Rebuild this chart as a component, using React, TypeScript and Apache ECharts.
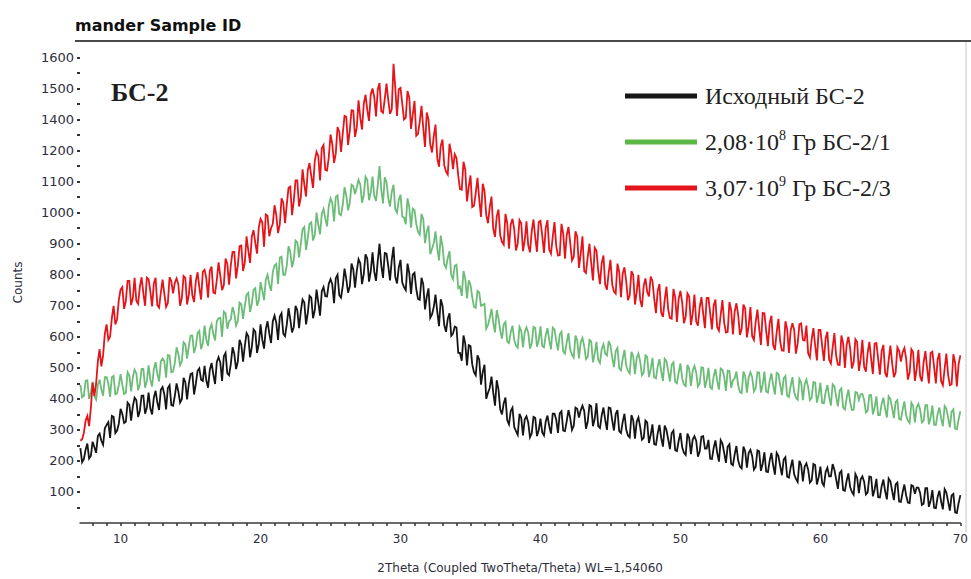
import { useEffect, useRef } from "react";
import * as echarts from "echarts";

// 2θ sampling grid of the diffractogram
const THETA_START = 7.125;
const THETA_STEP = 0.125;

// Y tick positions and the labels printed at them
const Y_TICK_VALUES = [100, 200, 300, 400, 500, 600, 700, 800, 900, 1000, 1100, 1200, 1300, 1400, 1500];
const Y_TICK_LABELS = ["100", "200", "300", "400", "500", "600", "700", "800", "900", "1000", "1100", "1200", "1400", "1500", "1600"];
const Y_MINOR_TICKS = [50, 100, 150, 200, 250, 300, 350, 400, 450, 500, 550, 600, 650, 700, 750, 800, 850, 900, 950, 1000, 1050, 1100, 1150, 1200, 1250, 1300, 1350, 1400, 1450, 1500];
const X_TICK_LABELS = [10, 20, 30, 40, 50, 60, 70];
const X_MINOR_TICKS = [8, 9, 10, 11, 12, 13, 14, 15, 16, 17, 18, 19, 20, 21, 22, 23, 24, 25, 26, 27, 28, 29, 30, 31, 32, 33, 34, 35, 36, 37, 38, 39, 40, 41, 42, 43, 44, 45, 46, 47, 48, 49, 50, 51, 52, 53, 54, 55, 56, 57, 58, 59, 60, 61, 62, 63, 64, 65, 66, 67, 68, 69, 70];

const SERIES_NAMES = ["Исходный БС-2", "2,08·10⁸ Гр БС-2/1", "3,07·10⁹ Гр БС-2/3"];

// Counts, one row per degree of 2θ (eight readings each, x.125 … x+1)
const initialCounts = [
  241, 196, 206, 236, 256, 208, 216, 262,
  245, 226, 280, 288, 265, 252, 305, 316,
  325, 274, 345, 342, 290, 298, 320, 368,
  351, 322, 326, 388, 381, 330, 376, 404,
  396, 342, 361, 410, 411, 352, 371, 420,
  369, 350, 404, 426, 389, 364, 429, 438,
  415, 366, 435, 444, 380, 378, 410, 450,
  424, 388, 399, 468, 454, 398, 449, 480,
  483, 414, 448, 490, 498, 462, 458, 506,
  459, 436, 494, 516, 479, 448, 519, 534,
  517, 458, 537, 548, 482, 476, 512, 566,
  545, 496, 520, 590, 575, 520, 570, 612,
  602, 534, 567, 624, 617, 548, 577, 640,
  590, 562, 625, 650, 610, 580, 650, 668,
  645, 590, 665, 676, 610, 602, 640, 692,
  656, 614, 631, 700, 686, 628, 681, 720,
  711, 640, 676, 732, 726, 660, 686, 752,
  711, 668, 746, 760, 731, 730, 771, 786,
  769, 708, 789, 800, 734, 726, 764, 820,
  787, 742, 762, 836, 817, 758, 812, 850,
  837, 770, 802, 866, 852, 778, 812, 872,
  810, 780, 845, 900, 830, 790, 870, 868,
  828, 782, 848, 890, 793, 772, 823, 848,
  775, 760, 750, 836, 805, 738, 800, 806,
  754, 722, 719, 790, 769, 688, 729, 756,
  661, 672, 696, 736, 681, 634, 721, 700,
  638, 616, 658, 676, 603, 610, 633, 630,
  548, 548, 523, 604, 578, 508, 573, 570,
  511, 486, 476, 540, 526, 446, 486, 510,
  400, 420, 435, 472, 420, 378, 460, 430,
  366, 350, 386, 404, 331, 318, 361, 372,
  309, 296, 284, 352, 339, 282, 334, 344,
  324, 276, 289, 342, 339, 280, 299, 336,
  292, 282, 327, 346, 312, 288, 352, 352,
  333, 290, 353, 360, 298, 296, 328, 364,
  338, 300, 313, 372, 368, 340, 363, 378,
  361, 304, 326, 380, 376, 312, 336, 386,
  312, 306, 347, 372, 332, 300, 372, 370,
  331, 298, 351, 364, 296, 290, 326, 352,
  301, 282, 276, 348, 331, 272, 326, 340,
  309, 268, 274, 330, 324, 258, 284, 318,
  254, 252, 289, 316, 274, 246, 314, 300,
  270, 238, 290, 298, 235, 232, 265, 290,
  244, 226, 219, 288, 274, 222, 269, 280,
  265, 214, 230, 278, 280, 240, 240, 268,
  207, 206, 242, 266, 227, 198, 267, 256,
  226, 194, 246, 254, 191, 186, 221, 248,
  201, 182, 176, 246, 231, 178, 226, 236,
  216, 172, 181, 234, 231, 168, 191, 228,
  166, 164, 201, 226, 186, 156, 226, 216,
  184, 154, 204, 212, 149, 146, 179, 204,
  157, 142, 132, 200, 187, 134, 182, 192,
  172, 130, 137, 190, 187, 124, 147, 182,
  130, 120, 165, 178, 150, 150, 190, 172,
  141, 110, 161, 168, 106, 104, 136, 160,
  116, 100, 91, 158, 146, 96, 141, 150,
  133, 92, 98, 150, 148, 86, 108, 142,
  83, 82, 118, 140, 103, 76, 143, 134,
  104, 74, 124, 130, 69, 68, 99, 124,
  89, 66, 64, 122, 119, 94, 114, 114,
  97, 58, 62, 112, 112, 52, 72, 106,
  49, 48, 84, 104, 69, 44, 109, 98,
  69, 40, 89, 94, 34, 32, 64, 90,
];

const dose1Counts = [
  445, 405, 410, 458, 460, 400, 420, 455,
  410, 398, 445, 462, 430, 410, 470, 470,
  450, 406, 470, 474, 415, 418, 445, 480,
  445, 416, 420, 486, 475, 424, 470, 494,
  482, 428, 447, 496, 497, 436, 457, 508,
  461, 440, 496, 518, 481, 456, 521, 530,
  521, 468, 541, 540, 486, 488, 516, 566,
  546, 508, 521, 582, 576, 530, 571, 604,
  604, 548, 569, 612, 619, 560, 579, 636,
  590, 570, 625, 640, 610, 588, 650, 660,
  661, 600, 681, 676, 626, 650, 656, 696,
  675, 636, 650, 710, 705, 658, 700, 736,
  742, 680, 707, 752, 757, 700, 717, 776,
  749, 718, 784, 800, 769, 748, 809, 830,
  835, 770, 855, 858, 800, 800, 830, 892,
  874, 824, 849, 910, 904, 856, 899, 946,
  954, 880, 919, 964, 969, 910, 929, 1000,
  961, 930, 996, 1012, 981, 956, 1021, 1046,
  1031, 972, 1051, 1056, 996, 992, 1026, 1082,
  1056, 1008, 1031, 1090, 1086, 1060, 1081, 1106,
  1091, 1032, 1056, 1116, 1106, 1040, 1066, 1116,
  1054, 1038, 1089, 1150, 1074, 1030, 1114, 1098,
  1047, 1020, 1067, 1090, 1012, 1000, 1042, 1058,
  988, 984, 963, 1046, 1018, 952, 1013, 1008,
  964, 938, 929, 996, 979, 902, 939, 958,
  866, 884, 901, 940, 886, 846, 926, 892,
  834, 822, 854, 876, 799, 786, 829, 832,
  757, 762, 732, 812, 787, 724, 782, 768,
  728, 696, 693, 748, 743, 700, 703, 706,
  626, 638, 661, 690, 646, 614, 686, 660,
  620, 594, 640, 648, 585, 580, 615, 636,
  590, 572, 565, 632, 620, 566, 615, 630,
  614, 562, 579, 632, 629, 568, 589, 634,
  570, 566, 605, 628, 590, 560, 630, 624,
  588, 556, 608, 616, 553, 546, 583, 612,
  558, 542, 533, 604, 588, 530, 583, 596,
  570, 528, 535, 590, 585, 518, 545, 584,
  526, 516, 561, 576, 546, 540, 586, 572,
  534, 502, 554, 564, 499, 492, 529, 558,
  507, 490, 482, 552, 537, 480, 532, 546,
  520, 476, 485, 540, 535, 470, 495, 532,
  469, 466, 504, 528, 489, 458, 529, 522,
  490, 456, 510, 518, 455, 450, 485, 514,
  466, 446, 441, 510, 496, 442, 491, 506,
  485, 440, 450, 502, 500, 436, 460, 500,
  438, 432, 473, 496, 458, 430, 498, 494,
  471, 426, 491, 490, 436, 460, 466, 488,
  444, 422, 419, 488, 474, 420, 469, 486,
  470, 424, 435, 486, 485, 420, 445, 488,
  424, 420, 459, 482, 444, 414, 484, 480,
  446, 412, 466, 474, 411, 406, 441, 470,
  422, 404, 397, 464, 452, 396, 447, 462,
  438, 396, 403, 454, 453, 388, 413, 452,
  387, 386, 422, 444, 407, 378, 447, 440,
  407, 376, 427, 434, 372, 366, 402, 430,
  390, 364, 365, 422, 420, 396, 415, 416,
  397, 356, 362, 412, 412, 350, 372, 408,
  348, 348, 383, 404, 368, 340, 408, 400,
  370, 338, 390, 396, 335, 332, 365, 392,
  347, 330, 322, 388, 377, 324, 372, 384,
  365, 324, 330, 380, 380, 318, 340, 378,
  317, 316, 352, 372, 337, 312, 377, 368,
  339, 308, 359, 366, 304, 302, 334, 360,
];

const dose2Counts = [
  265, 270, 290, 330, 345, 312, 370, 452,
  410, 448, 520, 560, 505, 540, 610, 640,
  590, 600, 660, 700, 640, 656, 720, 752,
  760, 690, 715, 780, 780, 702, 725, 790,
  716, 706, 761, 792, 741, 700, 791, 786,
  747, 698, 772, 790, 702, 694, 742, 784,
  739, 696, 709, 792, 779, 740, 774, 788,
  770, 700, 725, 796, 790, 704, 735, 800,
  734, 712, 779, 808, 759, 720, 809, 816,
  788, 726, 813, 826, 743, 740, 783, 840,
  796, 750, 766, 852, 836, 768, 831, 874,
  874, 788, 829, 892, 894, 812, 839, 924,
  878, 838, 923, 944, 903, 868, 953, 980,
  969, 890, 994, 990, 924, 950, 964, 1024,
  992, 934, 962, 1046, 1032, 966, 1027, 1080,
  1084, 992, 1039, 1104, 1104, 1020, 1049, 1140,
  1092, 1052, 1137, 1160, 1117, 1080, 1167, 1196,
  1183, 1104, 1208, 1218, 1138, 1136, 1178, 1252,
  1221, 1160, 1191, 1276, 1261, 1196, 1256, 1312,
  1309, 1218, 1264, 1330, 1329, 1244, 1274, 1362,
  1306, 1268, 1351, 1380, 1331, 1296, 1381, 1400,
  1372, 1310, 1397, 1418, 1327, 1322, 1367, 1416,
  1363, 1318, 1333, 1480, 1403, 1312, 1398, 1402,
  1351, 1300, 1306, 1392, 1371, 1270, 1316, 1360,
  1248, 1254, 1293, 1344, 1273, 1212, 1323, 1300,
  1221, 1194, 1246, 1284, 1176, 1148, 1216, 1236,
  1153, 1132, 1123, 1222, 1193, 1140, 1188, 1176,
  1119, 1076, 1074, 1164, 1139, 1036, 1084, 1120,
  1018, 1022, 1063, 1112, 1043, 986, 1093, 1070,
  993, 966, 1018, 1052, 948, 922, 988, 1010,
  927, 906, 897, 996, 967, 884, 962, 980,
  946, 878, 901, 976, 966, 876, 911, 972,
  895, 872, 940, 978, 920, 874, 970, 974,
  926, 870, 951, 976, 881, 868, 921, 970,
  893, 862, 863, 964, 933, 852, 928, 954,
  903, 846, 858, 940, 923, 822, 868, 924,
  812, 806, 857, 900, 837, 782, 887, 878,
  813, 770, 838, 862, 768, 752, 808, 848,
  769, 746, 739, 836, 809, 728, 804, 824,
  779, 718, 734, 812, 799, 704, 744, 800,
  719, 696, 764, 788, 744, 730, 794, 780,
  723, 676, 748, 770, 678, 664, 718, 762,
  688, 660, 658, 754, 728, 648, 723, 748,
  710, 644, 665, 740, 730, 638, 675, 736,
  650, 636, 695, 728, 675, 628, 725, 726,
  676, 624, 701, 720, 631, 620, 671, 718,
  646, 614, 616, 712, 686, 608, 681, 708,
  671, 606, 626, 704, 691, 598, 636, 696,
  602, 590, 647, 688, 627, 574, 677, 676,
  619, 570, 644, 668, 574, 558, 614, 658,
  585, 556, 555, 650, 625, 548, 620, 644,
  623, 546, 578, 640, 643, 590, 588, 636,
  547, 534, 592, 628, 572, 524, 622, 622,
  571, 522, 596, 616, 526, 514, 566, 612,
  539, 510, 509, 604, 579, 500, 574, 600,
  563, 498, 518, 592, 583, 490, 528, 590,
  503, 488, 548, 584, 528, 480, 578, 580,
  529, 478, 554, 574, 484, 470, 524, 572,
  515, 470, 485, 566, 555, 520, 550, 564,
  530, 462, 485, 560, 550, 458, 495, 558,
  473, 456, 518, 554, 498, 450, 548, 552,
  502, 450, 527, 548, 457, 444, 497, 546,
  477, 444, 447, 544, 517, 440, 512, 540,
];

const LINE_COLORS = ["#151515", "#6cbc78", "#e3151b"];
const LEGEND_COLORS = ["#151515", "#5bb844", "#e3151b"];

const SUPERSCRIPTS: Record<string, string> = {
  "⁰": "0", "¹": "1", "²": "2", "³": "3", "⁴": "4",
  "⁵": "5", "⁶": "6", "⁷": "7", "⁸": "8", "⁹": "9",
};

const toPairs = (values: number[]) =>
  values.map((v, i) => [THETA_START + i * THETA_STEP, v]);

export default function App() {
  const ref = useRef<HTMLDivElement>(null);

  useEffect(() => {
    if (!ref.current) return;
    const chart = echarts.init(ref.current, undefined, { renderer: "svg" });
    const seriesData = [initialCounts, dose1Counts, dose2Counts];

    chart.setOption({
      animation: false,
      backgroundColor: "#ffffff",
      grid: { left: 80, right: 5, top: 42, bottom: 47 },
      legend: {
        orient: "vertical",
        left: 620,
        top: 77,
        icon: "rect",
        itemWidth: 72,
        itemHeight: 5,
        itemGap: 18,
        selectedMode: false,
        data: SERIES_NAMES.map((name, i) => ({
          name,
          itemStyle: { color: LEGEND_COLORS[i] },
        })),
        formatter: (name: string) =>
          name.replace(/[⁰¹²³⁴⁵⁶⁷⁸⁹]/g, (m) => `{sup|${SUPERSCRIPTS[m]}}`),
        textStyle: {
          fontFamily: "Liberation Serif",
          fontSize: 24,
          lineHeight: 28,
          color: "#222222",
          padding: [0, 0, 0, 3],
          rich: {
            sup: {
              fontFamily: "Liberation Serif",
              fontSize: 14,
              lineHeight: 16,
              verticalAlign: "top",
              color: "#222222",
            },
          },
        },
      },
      xAxis: {
        type: "value",
        min: 7.1,
        max: 70,
        name: "2Theta (Coupled TwoTheta/Theta) WL=1,54060",
        nameLocation: "middle",
        nameGap: 39,
        nameTextStyle: { fontFamily: "DejaVu Sans", fontSize: 12, color: "#2e2e3c" },
        axisLine: { lineStyle: { color: "#3a3a3a", width: 1.5 } },
        axisTick: {
          customValues: X_MINOR_TICKS,
          length: 3,
          lineStyle: { color: "#333333", width: 1.5 },
        },
        axisLabel: {
          customValues: X_TICK_LABELS,
          fontFamily: "DejaVu Sans",
          fontSize: 12,
          color: "#2e2e3c",
          margin: 10,
        },
        splitLine: { show: false },
      },
      yAxis: {
        type: "value",
        min: 0,
        max: 1550,
        name: "Counts",
        nameLocation: "middle",
        nameGap: 56,
        nameTextStyle: { fontFamily: "DejaVu Sans", fontSize: 12, color: "#2e2e3c" },
        axisLine: { show: false },
        axisTick: {
          show: true,
          customValues: Y_MINOR_TICKS,
          length: 3,
          lineStyle: { color: "#333333", width: 2 },
        },
        axisLabel: {
          customValues: Y_TICK_VALUES,
          formatter: (v: number) => Y_TICK_LABELS[Y_TICK_VALUES.indexOf(v)] ?? "",
          fontFamily: "DejaVu Sans",
          fontSize: 13,
          color: "#2e2e3c",
          margin: 6,
        },
        splitLine: { show: false },
      },
      series: SERIES_NAMES.map((name, i) => ({
        name,
        type: "line",
        data: toPairs(seriesData[i]),
        showSymbol: false,
        symbol: "none",
        silent: true,
        lineStyle: { color: LINE_COLORS[i], width: 1.8, join: "miter" },
        itemStyle: { color: LINE_COLORS[i] },
        z: 2 + i,
      })),
      graphic: [
        {
          type: "text",
          x: 75,
          y: 25,
          style: {
            text: "mander Sample ID",
            font: 'bold 16px "DejaVu Sans"',
            fill: "#111111",
            verticalAlign: "middle",
          },
        },
        {
          type: "line",
          shape: { x1: 75, y1: 41, x2: 971, y2: 41 },
          style: { stroke: "#4a4a4a", lineWidth: 2 },
        },
        {
          type: "line",
          shape: { x1: 966, y1: 42, x2: 966, y2: 532 },
          style: { stroke: "#c4c4c4", lineWidth: 1 },
        },
        {
          type: "text",
          x: 111,
          y: 92,
          style: {
            text: "БС-2",
            font: 'bold 26px "Liberation Serif"',
            fill: "#1e1e1e",
            verticalAlign: "middle",
          },
        },
      ],
    });

    return () => chart.dispose();
  }, []);

  return (
    <div
      ref={ref}
      style={{ position: "fixed", left: 0, top: 0, width: 971, height: 579 }}
    />
  );
}
